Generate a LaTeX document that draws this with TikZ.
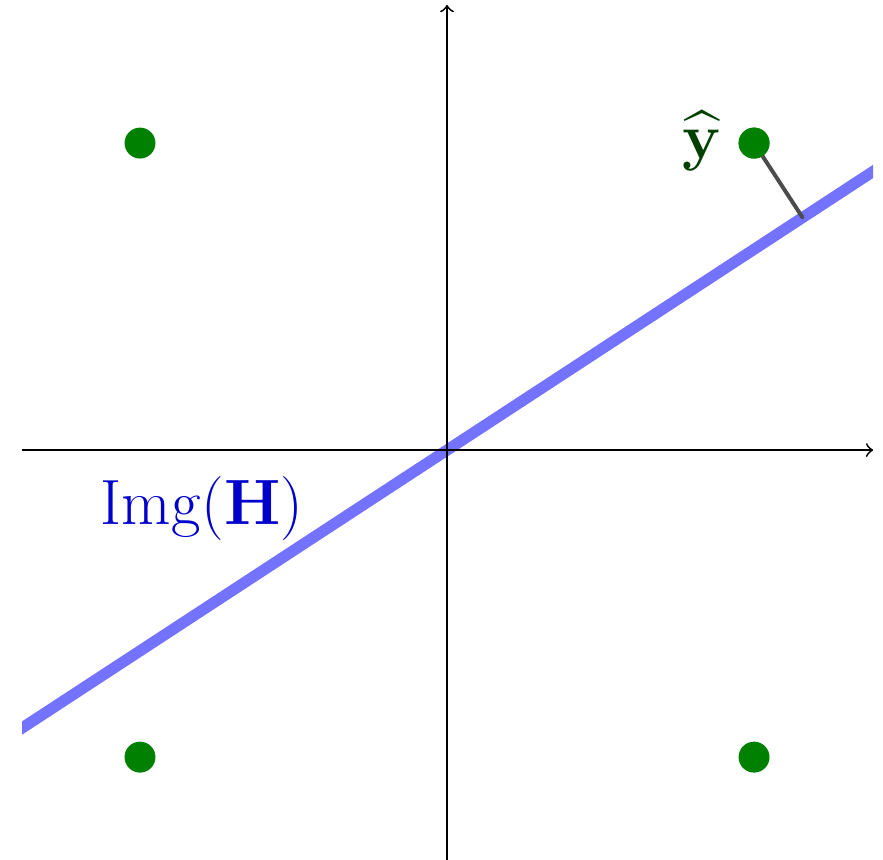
\documentclass[tikz,border=0pt]{standalone}
\usepackage{amsmath,amssymb}
\begin{document}
\begin{tikzpicture}[x=3cm,y=3cm,
  axis/.style={->,line width=0.5pt,black},
  pt/.style={circle,fill=green!50!black,inner sep=0pt,minimum size=8.6pt},
  imgline/.style={blue,opacity=0.55,line width=3.1pt},
  projseg/.style={black!70,line width=1.1pt,line cap=round}]
\useasboundingbox (-1.456,-1.332) rectangle (1.420,1.466);
% blue subspace line
\begin{scope}
\clip (-1.384,-1.332) rectangle (1.388,1.466);
\coordinate (la) at (-1.5,-0.981);
\coordinate (lb) at (1.5,0.981);
\draw[imgline] (la) -- (lb);
\end{scope}
% axes
\coordinate (xl) at (-1.384,0);
\coordinate (xr) at (1.388,0);
\coordinate (yb) at (0,-1.40);
\coordinate (yt) at (0,1.45);
\draw[axis] (xl) -- (xr);
\draw[axis] (yb) -- (yt);
% projection
\coordinate (proj) at (1.158,0.7575);
\node[pt] (ytr) at (1,1) {};
\draw[projseg] (ytr.center) -- (proj);
\node[pt] (ytl) at (-1,1) {};
\node[pt] (ybl) at (-1,-1) {};
\node[pt] (ybr) at (1,-1) {};
\node[pt] at (1,1) {};
% labels
\node[anchor=base east,inner sep=0pt,text=green!25!black,scale=1.03] (yhat) at (0.896,0.951) {\LARGE$\widehat{\mathbf{y}}$};
\node[text=blue!80!black,scale=1.03] (img) at (-0.798,-0.191) {\LARGE$\mathrm{Img}(\mathbf{H})$};
\end{tikzpicture}
\end{document}
